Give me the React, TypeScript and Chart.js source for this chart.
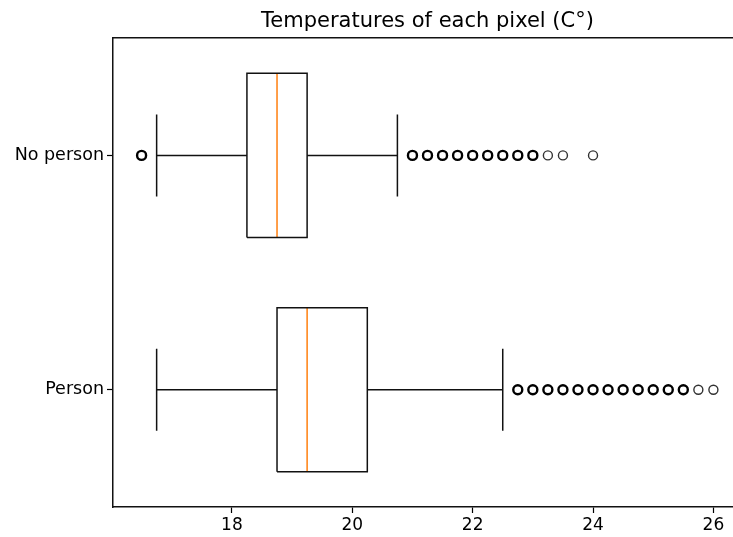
import React, { useEffect, useRef } from 'react';
import { Chart, registerables } from 'chart.js';

Chart.register(...registerables);

// ---- data ----
const categories = ['Person', 'No person'];
const positions = [1, 2];
const q1 = [18.75, 18.25];
const medians = [19.25, 18.75];
const q3 = [20.25, 19.25];
const whiskerLow = [16.75, 16.75];
const whiskerHigh = [22.5, 20.75];
const outliersPerson = [22.75, 23.0, 23.25, 23.5, 23.75, 24.0, 24.25, 24.5, 24.75, 25.0, 25.25, 25.5, 25.75, 26.0];
const outliersNoPerson = [16.5, 21.0, 21.25, 21.5, 21.75, 22.0, 22.25, 22.5, 22.75, 23.0, 23.25, 23.5, 24.0];
const faintPerson = [25.75, 26.0];
const faintNoPerson = [23.25, 23.5, 24.0];
const outliers = [outliersPerson, outliersNoPerson];
const faint = [faintPerson, faintNoPerson];
const xTicks = [18, 20, 22, 24, 26];
const xLimits = [16.025, 26.475];
const yLimits = [0.5, 2.5];
const titleText = 'Temperatures of each pixel (C°)';

const BOX_HALF = 0.35;
const CAP_HALF = 0.175;
const FONT = 'DejaVu Sans';

function lineDataset(data: { x: number; y: number }[], color: string, width: number) {
  return {
    data,
    showLine: true,
    borderColor: color,
    backgroundColor: color,
    borderWidth: width,
    pointRadius: 0,
    pointHoverRadius: 0,
    fill: false,
    tension: 0,
  };
}

function buildDatasets() {
  const ds: any[] = [];
  categories.forEach((_, i) => {
    const y = positions[i];
    ds.push(
      lineDataset(
        [
          { x: q1[i], y: y - BOX_HALF },
          { x: q3[i], y: y - BOX_HALF },
          { x: q3[i], y: y + BOX_HALF },
          { x: q1[i], y: y + BOX_HALF },
          { x: q1[i], y: y - BOX_HALF },
        ],
        '#111',
        1.5
      )
    );
    ds.push(lineDataset([{ x: whiskerLow[i], y }, { x: q1[i], y }], '#111', 1.5));
    ds.push(lineDataset([{ x: q3[i], y }, { x: whiskerHigh[i], y }], '#111', 1.5));
    ds.push(lineDataset([{ x: whiskerLow[i], y: y - CAP_HALF }, { x: whiskerLow[i], y: y + CAP_HALF }], '#111', 1.5));
    ds.push(lineDataset([{ x: whiskerHigh[i], y: y - CAP_HALF }, { x: whiskerHigh[i], y: y + CAP_HALF }], '#111', 1.5));
    ds.push(lineDataset([{ x: medians[i], y: y - BOX_HALF }, { x: medians[i], y: y + BOX_HALF }], '#ff7f0e', 1.5));
    const pts = outliers[i].map((v) => ({ x: v, y }));
    ds.push({
      data: pts,
      showLine: false,
      pointStyle: 'circle',
      pointRadius: 4.5,
      pointHoverRadius: 4.5,
      pointBackgroundColor: 'rgba(0,0,0,0)',
      pointBorderColor: outliers[i].map((v) => (faint[i].includes(v) ? '#333' : '#000')),
      pointBorderWidth: outliers[i].map((v) => (faint[i].includes(v) ? 1.4 : 2.4)),
    });
  });
  return ds;
}

export default function App() {
  const ref = useRef<HTMLCanvasElement | null>(null);

  useEffect(() => {
    if (!ref.current) return;
    const chart = new Chart(ref.current, {
      type: 'scatter',
      data: { datasets: buildDatasets() },
      options: {
        animation: false,
        responsive: false,
        devicePixelRatio: 1,
        layout: { padding: { left: 0, right: 8, top: 0, bottom: 0 } },
        plugins: {
          legend: { display: false },
          tooltip: { enabled: false },
          title: {
            display: true,
            text: titleText,
            fullSize: false,
            color: '#000',
            font: { family: FONT, size: 21, weight: 'normal', lineHeight: 1.2 },
            padding: { top: 9, bottom: 4 },
          },
        },
        scales: {
          x: {
            type: 'linear',
            position: 'bottom',
            min: xLimits[0],
            max: xLimits[1],
            afterBuildTicks: (axis: any) => {
              axis.ticks = xTicks.map((v) => ({ value: v }));
            },
            afterFit: (axis: any) => {
              axis.height = 30;
            },
            ticks: {
              color: '#000',
              font: { family: FONT, size: 17 },
              padding: 2,
              maxRotation: 0,
              autoSkip: false,
              callback: (v: any) => String(v),
            },
            grid: {
              display: true,
              drawOnChartArea: false,
              drawTicks: true,
              tickLength: 6,
              tickColor: '#000',
              tickWidth: 1.2,
            },
            border: { display: true, color: '#111', width: 1.5 },
          },
          x2: {
            type: 'linear',
            position: 'top',
            min: xLimits[0],
            max: xLimits[1],
            ticks: { display: false },
            grid: { display: false, drawTicks: false },
            border: { display: true, color: '#111', width: 1.5 },
          },
          y: {
            type: 'linear',
            min: yLimits[0],
            max: yLimits[1],
            afterBuildTicks: (axis: any) => {
              axis.ticks = positions.map((v) => ({ value: v }));
            },
            afterFit: (axis: any) => {
              axis.width = 113;
            },
            ticks: {
              color: '#000',
              font: { family: FONT, size: 17.5 },
              padding: 3,
              autoSkip: false,
              callback: (v: any) => categories[positions.indexOf(v)] ?? '',
            },
            grid: {
              display: true,
              drawOnChartArea: false,
              drawTicks: true,
              tickLength: 6,
              tickColor: '#000',
              tickWidth: 1.2,
            },
            border: { display: true, color: '#111', width: 1.5 },
          },
        },
      } as any,
    });
    return () => chart.destroy();
  }, []);

  return (
    <div
      style={{
        position: 'fixed',
        left: 0,
        top: 0,
        width: 733,
        height: 537,
        overflow: 'hidden',
        background: '#fff',
      }}
    >
      <canvas ref={ref} width={750} height={537} style={{ display: 'block' }} />
    </div>
  );
}
